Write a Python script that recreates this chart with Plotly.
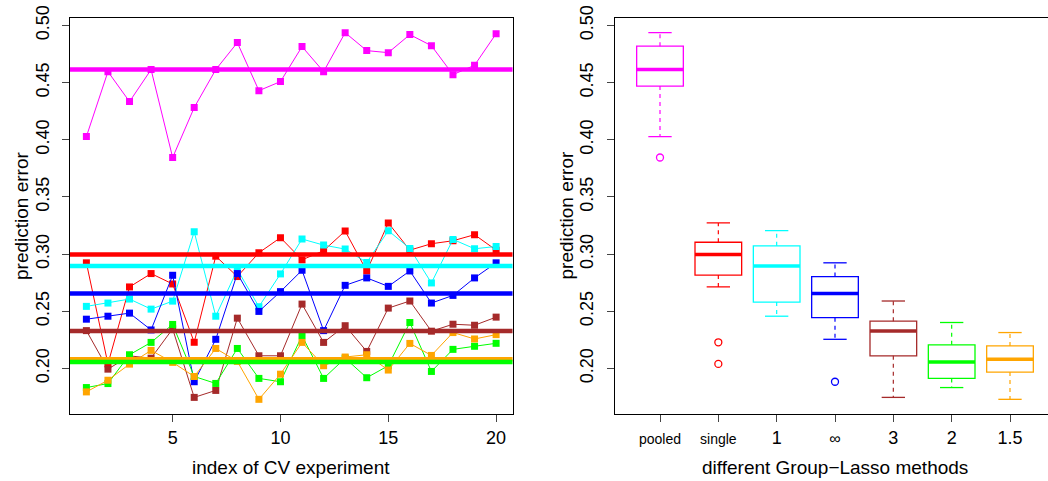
import math
import numpy as np
import plotly.graph_objects as go

experiments = list(range(1, 21))
methods = ["pooled", "single", "1", "∞", "3", "2", "1.5"]
colors = ["#FF00FF", "#FF0000", "#00FFFF", "#0000FF", "#A52A2A", "#00FF00", "#FFA500"]

err_pooled = [0.4028, 0.4596, 0.4334, 0.4614, 0.3845, 0.4282, 0.4614, 0.4850, 0.4430, 0.4509,
              0.4815, 0.4596, 0.4937, 0.4780, 0.4762, 0.4920, 0.4823, 0.4570, 0.4652, 0.4928]
err_single = [0.2924, 0.2040, 0.2713, 0.2830, 0.2739, 0.2229, 0.2982, 0.2804, 0.3012, 0.3144,
              0.2950, 0.3030, 0.3202, 0.2853, 0.3273, 0.3035, 0.3091, 0.3117, 0.3170, 0.3035]
err_gl1 = [0.2543, 0.2572, 0.2607, 0.2519, 0.2589, 0.3196, 0.2457, 0.2865, 0.2540, 0.2827,
           0.3132, 0.3079, 0.3044, 0.2927, 0.3205, 0.3050, 0.2748, 0.3129, 0.3047, 0.3067]
err_glinf = [0.2431, 0.2457, 0.2484, 0.2337, 0.2815, 0.1884, 0.2255, 0.2830, 0.2499, 0.2672,
             0.2859, 0.2331, 0.2727, 0.2792, 0.2718, 0.2853, 0.2572, 0.2639, 0.2792, 0.2924]
err_gl3 = [0.2331, 0.1994, 0.2110, 0.2090, 0.2346, 0.1747, 0.1808, 0.2440, 0.2111, 0.2111,
           0.2563, 0.2228, 0.2374, 0.2149, 0.2528, 0.2590, 0.2326, 0.2387, 0.2378, 0.2449]
err_gl2 = [0.1833, 0.1868, 0.2120, 0.2228, 0.2385, 0.1930, 0.1869, 0.2175, 0.1913, 0.1884,
           0.2287, 0.1913, 0.2090, 0.1919, 0.2024, 0.2402, 0.1974, 0.2167, 0.2194, 0.2220]
err_gl15 = [0.1795, 0.1897, 0.2038, 0.2158, 0.2053, 0.1930, 0.2175, 0.2062, 0.1730, 0.1950,
            0.2228, 0.2024, 0.2100, 0.2120, 0.1986, 0.2219, 0.2114, 0.2314, 0.2258, 0.2296]

series = [err_pooled, err_single, err_gl1, err_glinf, err_gl3, err_gl2, err_gl15]
y_ticks = [0.20, 0.25, 0.30, 0.35, 0.40, 0.45, 0.50]
x_ticks_left = [5, 10, 15, 20]

FONT = "Liberation Sans, Arial, Helvetica, sans-serif"
W, H = 1048, 481
L1, R1 = 70.0, 512.5
L2 = 614.5
TOP, BOT = 18, 414

allv = np.concatenate([np.array(s) for s in series])
span = allv.max() - allv.min()
yr = [allv.min() - 0.04 * span, allv.max() + 0.04 * span]

xr1 = [1 - 0.04 * 19, 20 + 0.04 * 19]
unit2 = (1010.0 - 660.0) / 6.0
xr2 = [0.5 - 0.04 * 7, 0.5 - 0.04 * 7 + (W - L2) / unit2]


def tukey_stats(vals):
    x = np.sort(np.asarray(vals, dtype=float))
    n = len(x)
    n4 = math.floor((n + 3) / 2) / 2
    d = [1, n4, (n + 1) / 2, n + 1 - n4, n]
    fn = [0.5 * (x[math.floor(v - 1)] + x[math.ceil(v - 1)]) for v in d]
    q1, med, q3 = fn[1], fn[2], fn[3]
    iqr = q3 - q1
    inside = x[(x >= q1 - 1.5 * iqr) & (x <= q3 + 1.5 * iqr)]
    lo, hi = inside.min(), inside.max()
    out = x[(x < lo) | (x > hi)]
    return q1, med, q3, lo, hi, out


fig = go.Figure()

# left panel: per-experiment lines with square markers
for s, c, m in zip(series, colors, methods):
    fig.add_trace(go.Scatter(x=experiments, y=s, mode="lines+markers",
                             line=dict(color=c, width=1),
                             marker=dict(symbol="square", size=7, color=c),
                             xaxis="x", yaxis="y", showlegend=False, name=m))

shapes = []
order = [0, 1, 2, 3, 4, 6, 5]
for i in order:
    med = float(np.median(series[i]))
    shapes.append(dict(type="line", xref="x domain", yref="y", x0=0, x1=1, y0=med, y1=med,
                       line=dict(color=colors[i], width=4.5), layer="above"))

# right panel: boxplots (R style: dashed whiskers, solid staples, thick median)
BW = 0.8
for i, (s, c, m) in enumerate(zip(series, colors, methods)):
    pos = i + 1
    q1, med, q3, lo, hi, out = tukey_stats(s)
    fig.add_trace(go.Box(x=[pos], q1=[q1], median=[med], q3=[q3], lowerfence=[q1], upperfence=[q3],
                         width=BW, whiskerwidth=0, line=dict(color=c, width=1.3),
                         fillcolor="rgba(0,0,0,0)", xaxis="x2", yaxis="y2",
                         showlegend=False, name=m, boxpoints=False))
    # whiskers (dashed)
    fig.add_trace(go.Scatter(x=[pos, pos, None, pos, pos], y=[q3, hi, None, q1, lo], mode="lines",
                             line=dict(color=c, width=1.2, dash="4px,4px"),
                             xaxis="x2", yaxis="y2", showlegend=False, hoverinfo="skip"))
    # staples
    fig.add_trace(go.Scatter(x=[pos - BW / 4, pos + BW / 4, None, pos - BW / 4, pos + BW / 4],
                             y=[hi, hi, None, lo, lo], mode="lines",
                             line=dict(color=c, width=1.3),
                             xaxis="x2", yaxis="y2", showlegend=False, hoverinfo="skip"))
    # median
    fig.add_trace(go.Scatter(x=[pos - BW / 2, pos + BW / 2], y=[med, med], mode="lines",
                             line=dict(color=c, width=3.5), xaxis="x2", yaxis="y2",
                             showlegend=False, hoverinfo="skip"))
    # outliers
    if len(out):
        fig.add_trace(go.Scatter(x=[pos] * len(out), y=list(out), mode="markers",
                                 marker=dict(symbol="circle-open", size=7, color=c,
                                             line=dict(color=c, width=1.3)),
                                 xaxis="x2", yaxis="y2", showlegend=False, hoverinfo="skip"))

small = '<span style="font-size:14px">%s</span>'
ticktext2 = [small % "pooled", small % "single", "1", '<span style="font-size:16px">∞</span>', "3", "2", "1.5"]

axis_common = dict(showgrid=False, zeroline=False, showline=True, linecolor="black", linewidth=1,
                   ticks="outside", ticklen=7, tickcolor="#444", tickwidth=1,
                   tickfont=dict(family=FONT, size=18, color="black"))

fig.update_layout(
    width=W, height=H,
    margin=dict(l=0, r=0, t=TOP, b=H - BOT, pad=0),
    plot_bgcolor="white", paper_bgcolor="white",
    xaxis=dict(domain=[L1 / W, R1 / W], range=xr1, tickvals=x_ticks_left, mirror=True,
               anchor="y", **axis_common),
    yaxis=dict(domain=[0, 1], range=yr, tickvals=y_ticks, tickformat=".2f", tickangle=-90,
               mirror=True, anchor="x", ticklabelstandoff=6, **axis_common),
    xaxis2=dict(domain=[L2 / W, 1.0], range=xr2, tickvals=list(range(1, 8)), ticktext=ticktext2,
                mirror=True, anchor="y2", **axis_common),
    yaxis2=dict(domain=[0, 1], range=yr, tickvals=y_ticks, tickformat=".2f", tickangle=-90,
                mirror=False, anchor="x2", ticklabelstandoff=6, **axis_common),
    shapes=shapes,
    font=dict(family=FONT, size=18, color="black"),
)


def px_x(p):
    return p / W


def px_y(p):
    return (BOT - p) / (BOT - TOP)


ann = [
    dict(text="prediction error", x=px_x(21), y=px_y(216), textangle=-90),
    dict(text="prediction error", x=px_x(L2 - 49), y=px_y(216), textangle=-90),
    dict(text="index of CV experiment", x=px_x((L1 + R1) / 2), y=px_y(467)),
    dict(text="different Group−Lasso methods", x=px_x(835), y=px_y(467)),
]
for a in ann:
    fig.add_annotation(xref="paper", yref="paper", showarrow=False, xanchor="center",
                       yanchor="middle", font=dict(family=FONT, size=19, color="black"), **a)

fig.write_html("out.html")
